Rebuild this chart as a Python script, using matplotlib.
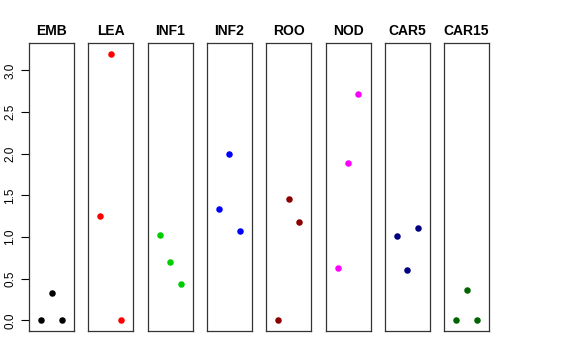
import matplotlib
matplotlib.use("Agg")
import matplotlib.pyplot as plt
import numpy as np

plt.rcParams['font.family'] = ['Liberation Sans', 'DejaVu Sans']

groups = ["EMB", "LEA", "INF1", "INF2", "ROO", "NOD", "CAR5", "CAR15"]
colors = ["#000000", "#FF0000", "#00CD00", "#0000FF", "#8B0000", "#FF00FF", "#000080", "#006400"]
emb = [0.0, 0.333, 0.0]
lea = [1.25, 3.2, 0.0]
inf1 = [1.02, 0.70, 0.435]
inf2 = [1.333, 2.0, 1.07]
roo = [0.0, 1.46, 1.18]
nod = [0.63, 1.89, 2.71]
car5 = [1.01, 0.60, 1.11]
car15 = [0.0, 0.367, 0.0]
values = [emb, lea, inf1, inf2, roo, nod, car5, car15]
yticks = [0.0, 0.5, 1.0, 1.5, 2.0, 2.5, 3.0]

W, H = 576, 360
fig = plt.figure(figsize=(W / 100, H / 100), dpi=100)
left0 = 29
width = 45
step = 59.3
top, bottom = 43, 331
ymax = 3.2
ypad = ymax * 0.04
for i, (g, c, v) in enumerate(zip(groups, colors, values)):
    x0 = left0 + i * step
    ax = fig.add_axes([x0 / W, 1 - bottom / H, width / W, (bottom - top) / H])
    ax.scatter(np.arange(1, len(v) + 1), v, s=22, color=c, linewidths=0, zorder=3)
    ax.set_xlim(-0.16, 4.16)
    ax.set_ylim(-ypad, ymax + ypad)
    ax.set_xticks([])
    for sp in ax.spines.values():
        sp.set_linewidth(0.9)
        sp.set_color("#333333")
    ax.set_title(g, fontsize=10, fontweight="bold", pad=6)
    if i == 0:
        ax.set_yticks(yticks)
        ax.set_yticklabels([f"{t:.1f}" for t in yticks], rotation=90, va="center", fontsize=8.5)
        ax.tick_params(axis="y", length=6, width=0.8, pad=3)
    else:
        ax.set_yticks([])

fig.savefig("out.png", dpi=100)
